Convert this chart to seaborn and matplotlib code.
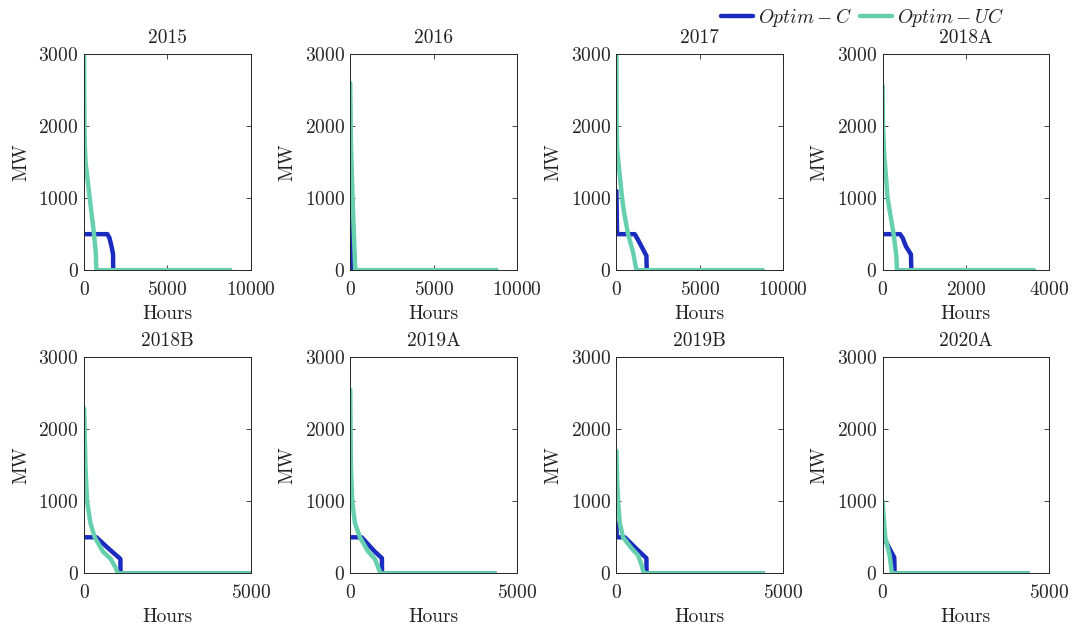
import matplotlib
matplotlib.use("Agg")
import matplotlib.pyplot as plt
import pandas as pd
import seaborn as sns
from matplotlib.lines import Line2D

# Duration curves (hours sorted by output, MW) for each period
periods = ["2015", "2016", "2017", "2018A", "2018B", "2019A", "2019B", "2020A"]

c_2015_h = [0, 1400, 1520, 1650, 1740, 1750, 8760]
c_2015_mw = [500, 500, 450, 330, 220, 0, 0]
uc_2015_h = [0, 10, 25, 50, 90, 340, 600, 700, 740, 8760]
uc_2015_mw = [3000, 2500, 2000, 1700, 1500, 1000, 500, 250, 0, 0]

c_2016_h = [0, 20, 60, 100, 8760]
c_2016_mw = [900, 500, 250, 0, 0]
uc_2016_h = [0, 40, 140, 300, 8760]
uc_2016_mw = [2600, 1800, 1000, 0, 0]

c_2017_h = [0, 20, 40, 1100, 1300, 1800, 1820, 8760]
c_2017_mw = [1100, 800, 500, 500, 420, 200, 0, 0]
uc_2017_h = [0, 10, 40, 120, 340, 460, 700, 1000, 1200, 8760]
uc_2017_mw = [3000, 2000, 1700, 1500, 1000, 800, 500, 250, 0, 0]

c_2018a_h = [0, 420, 480, 560, 680, 690, 3620]
c_2018a_mw = [500, 500, 450, 330, 220, 0, 0]
uc_2018a_h = [0, 10, 40, 120, 265, 330, 345, 3620]
uc_2018a_mw = [2560, 2000, 1600, 1000, 500, 200, 0, 0]

c_2018b_h = [0, 370, 720, 1090, 1095, 5000]
c_2018b_mw = [500, 500, 350, 200, 0, 0]
uc_2018b_h = [0, 20, 40, 90, 190, 320, 570, 800, 920, 1020, 5000]
uc_2018b_mw = [2290, 2000, 1500, 1000, 700, 500, 300, 200, 100, 0, 0]

c_2019a_h = [0, 340, 740, 950, 955, 4340]
c_2019a_mw = [500, 500, 300, 210, 0, 0]
uc_2019a_h = [0, 10, 20, 60, 140, 290, 540, 740, 910, 4340]
uc_2019a_mw = [2550, 2000, 1500, 1000, 700, 500, 300, 200, 0, 0]

c_2019b_h = [0, 10, 250, 600, 900, 905, 4400]
c_2019b_mw = [700, 500, 500, 340, 210, 0, 0]
uc_2019b_h = [0, 20, 50, 100, 200, 450, 650, 750, 820, 4400]
uc_2019b_mw = [1700, 1300, 1000, 700, 500, 350, 250, 120, 0, 0]

c_2020a_h = [0, 30, 200, 350, 360, 4360]
c_2020a_mw = [550, 500, 350, 220, 0, 0]
uc_2020a_h = [0, 30, 80, 210, 280, 4360]
uc_2020a_mw = [1000, 800, 500, 250, 0, 0]

c_series = [(c_2015_h, c_2015_mw), (c_2016_h, c_2016_mw), (c_2017_h, c_2017_mw),
            (c_2018a_h, c_2018a_mw), (c_2018b_h, c_2018b_mw), (c_2019a_h, c_2019a_mw),
            (c_2019b_h, c_2019b_mw), (c_2020a_h, c_2020a_mw)]
uc_series = [(uc_2015_h, uc_2015_mw), (uc_2016_h, uc_2016_mw), (uc_2017_h, uc_2017_mw),
             (uc_2018a_h, uc_2018a_mw), (uc_2018b_h, uc_2018b_mw), (uc_2019a_h, uc_2019a_mw),
             (uc_2019b_h, uc_2019b_mw), (uc_2020a_h, uc_2020a_mw)]

x_limits = [10000, 10000, 10000, 4000, 5000, 5000, 5000, 5000]
x_ticks = [[0, 5000, 10000]] * 3 + [[0, 2000, 4000]] + [[0, 5000]] * 4
y_ticks = [0, 1000, 2000, 3000]

label_c = r"$Optim-C$"
label_uc = r"$Optim-UC$"
color_c = "#1a2bbf"
color_uc = "#66cfae"

sns.set_theme(style="ticks")
plt.rcParams.update({
    "font.family": ["cmr10", "DejaVu Serif"],
    "mathtext.fontset": "cm",
    "axes.formatter.use_mathtext": True,
    "font.size": 14,
    "axes.titlesize": 14,
    "axes.labelsize": 14,
    "xtick.labelsize": 14,
    "ytick.labelsize": 14,
    "legend.fontsize": 14,
    "text.color": "#222222",
    "axes.labelcolor": "#222222",
    "xtick.color": "#262626",
    "ytick.color": "#262626",
    "axes.edgecolor": "#262626",
    "axes.linewidth": 0.7,
    "xtick.direction": "in",
    "ytick.direction": "in",
    "xtick.top": True,
    "ytick.right": True,
    "xtick.major.size": 3.5,
    "ytick.major.size": 3.5,
    "xtick.major.width": 0.6,
    "ytick.major.width": 0.6,
    "xtick.major.pad": 8,
    "ytick.major.pad": 4,
})

rows = []
for name, (ch, cm), (uh, um) in zip(periods, c_series, uc_series):
    for i, (h, m) in enumerate(zip(ch, cm)):
        rows.append({"period": name, "series": label_c, "order": i, "Hours": h, "MW": m})
    for i, (h, m) in enumerate(zip(uh, um)):
        rows.append({"period": name, "series": label_uc, "order": i, "Hours": h, "MW": m})
df = pd.DataFrame(rows)

fig, axes = plt.subplots(2, 4, figsize=(10.72, 6.24), dpi=100)
fig.subplots_adjust(left=0.0784, right=0.9788, top=0.9135, bottom=0.0812,
                    wspace=0.597, hspace=0.402)

for ax, name, xmax, xt in zip(axes.flat, periods, x_limits, x_ticks):
    sub = df[df["period"] == name]
    for label, color in [(label_c, color_c), (label_uc, color_uc)]:
        part = sub[sub["series"] == label].sort_values("order")
        sns.lineplot(data=part, x="Hours", y="MW", ax=ax, color=color, lw=3.2,
                     estimator=None, sort=False, legend=False)
    ax.set_xlim(0, xmax)
    ax.set_ylim(0, 3000)
    ax.set_xticks(xt)
    ax.set_yticks(y_ticks)
    ax.set_title(name, pad=8)
    ax.set_xlabel("Hours", labelpad=4)
    ax.set_ylabel("MW", labelpad=6)
    for s in ax.spines.values():
        s.set_visible(True)

handles = [Line2D([], [], color=color_c, lw=3.2), Line2D([], [], color=color_uc, lw=3.2)]
fig.legend(handles, [label_c, label_uc], loc="center", bbox_to_anchor=(0.805, 0.972),
           ncol=2, frameon=False, handlelength=1.65, handletextpad=0.25,
           columnspacing=0.4, borderaxespad=0)

fig.savefig("out.png", dpi=100)
